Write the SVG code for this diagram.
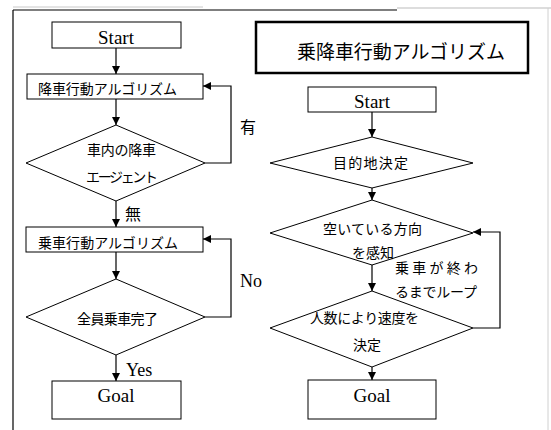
<svg xmlns="http://www.w3.org/2000/svg" width="551" height="430" viewBox="0 0 551 430">
<style>
.box{fill:#fff;stroke:#000;stroke-width:1}
.title{fill:#fff;stroke:#000;stroke-width:2.5}
.lat{font-family:"Liberation Serif","Times New Roman",serif;font-size:19px;fill:#000}
.lbl{font-family:"Liberation Serif","Times New Roman",serif;font-size:18px;fill:#000}
.jp{font-family:"Noto Sans CJK JP","Noto Sans CJK SC",sans-serif;font-size:14px;fill:#000}
.jpl{font-family:"Noto Sans CJK JP","Noto Sans CJK SC",sans-serif;font-size:16px;fill:#000}
.jpt{font-family:"Noto Sans CJK JP","Noto Sans CJK SC",sans-serif;font-size:19px;fill:#000}
.edge{fill:none;stroke:#000;stroke-width:1.2}
.arr{marker-end:url(#ah)}
</style>
<defs>
<marker id="ah" viewBox="0 0 10 10" refX="10" refY="5" markerWidth="8" markerHeight="8" markerUnits="userSpaceOnUse" orient="auto">
<path d="M0,0 L10,5 L0,10 z" fill="#000"/>
</marker>
</defs>
<rect width="551" height="430" fill="#fff"/>
<g id="frame">
<line x1="13" y1="7" x2="203" y2="7" stroke="#c8c8c8" stroke-width="1"/>
<line x1="13" y1="10" x2="397" y2="10" stroke="#000" stroke-width="1.2"/>
<line x1="397" y1="8" x2="551" y2="8" stroke="#bbb" stroke-width="1"/>
<line x1="13" y1="10" x2="13" y2="430" stroke="#000" stroke-width="1.2"/>
<line x1="548" y1="8" x2="548" y2="430" stroke="#d0d0d0" stroke-width="1"/>
</g>
<g id="edges">
<line class="edge arr" x1="116" y1="48" x2="116" y2="74"/>
<line class="edge arr" x1="116" y1="99" x2="116" y2="125"/>
<polyline class="edge arr" points="205,163 231,163 231,86 203,86"/>
<line class="edge arr" x1="116" y1="201" x2="116" y2="227"/>
<line class="edge arr" x1="116" y1="252" x2="116" y2="279"/>
<polyline class="edge arr" points="205,317 231,317 231,239 203,239"/>
<line class="edge arr" x1="116" y1="355" x2="116" y2="381"/>
<line class="edge arr" x1="372" y1="112" x2="372" y2="137"/>
<line class="edge arr" x1="372" y1="188" x2="372" y2="200"/>
<line class="edge arr" x1="372" y1="265" x2="372" y2="291"/>
<polyline class="edge arr" points="473,328 500,328 500,232 473,232"/>
<line class="edge arr" x1="372" y1="367" x2="372" y2="380"/>
</g>
<g id="start-left">
<rect class="box" x="52" y="22" width="129" height="26"/>
<text class="lat" x="116" y="44" text-anchor="middle">Start</text>
</g>
<g id="alight-algo">
<rect class="box" x="27" y="74" width="176" height="25"/>
<text class="jp" x="38" y="94" textLength="139">降車行動アルゴリズム</text>
</g>
<g id="dec-alight">
<polygon class="box" points="116,125 205,163 116,201 26,163"/>
<text class="jp" x="87" y="155" textLength="69">車内の降車</text>
<text class="jp" x="86" y="182" textLength="72">エージェント</text>
</g>
<g id="board-algo">
<rect class="box" x="26" y="227" width="177" height="25"/>
<text class="jp" x="38" y="248" textLength="140">乗車行動アルゴリズム</text>
</g>
<g id="dec-board">
<polygon class="box" points="116,279 205,317 116,355 26,317"/>
<text class="jp" x="77" y="324" textLength="81">全員乗車完了</text>
</g>
<g id="goal-left">
<rect class="box" x="52" y="381" width="129" height="38"/>
<text class="lat" x="116" y="402" text-anchor="middle">Goal</text>
</g>
<g id="labels-left">
<text class="jpl" x="240" y="133">有</text>
<text class="jpl" x="125" y="220" font-size="15">無</text>
<text class="lbl" x="240" y="287">No</text>
<text class="lbl" x="126" y="376">Yes</text>
</g>
<g id="title">
<rect class="title" x="256" y="22" width="272" height="51"/>
<text class="jpt" x="297" y="59" textLength="208">乗降車行動アルゴリズム</text>
</g>
<g id="start-right">
<rect class="box" x="308" y="87" width="128" height="25"/>
<text class="lat" x="372" y="108" text-anchor="middle">Start</text>
</g>
<g id="dec-dest">
<polygon class="box" points="372,137 473,163 372,188 270,163"/>
<text class="jp" x="333" y="168" textLength="75">目的地決定</text>
</g>
<g id="dec-sense">
<polygon class="box" points="372,200 473,233 372,265 270,233"/>
<text class="jp" x="323" y="234" textLength="99">空いている方向</text>
<text class="jp" x="352" y="258">を感知</text>
</g>
<g id="dec-speed">
<polygon class="box" points="372,291 473,328 372,367 270,328"/>
<text class="jp" x="310" y="323" textLength="109">人数により速度を</text>
<text class="jp" x="353" y="350">決定</text>
</g>
<g id="goal-right">
<rect class="box" x="308" y="380" width="128" height="39"/>
<text class="lat" x="372" y="402" text-anchor="middle">Goal</text>
</g>
<g id="loop-label">
<text class="jp" x="395" y="273" textLength="83">乗車が終わ</text>
<text class="jp" x="395" y="297" textLength="82">るまでループ</text>
</g>
</svg>
